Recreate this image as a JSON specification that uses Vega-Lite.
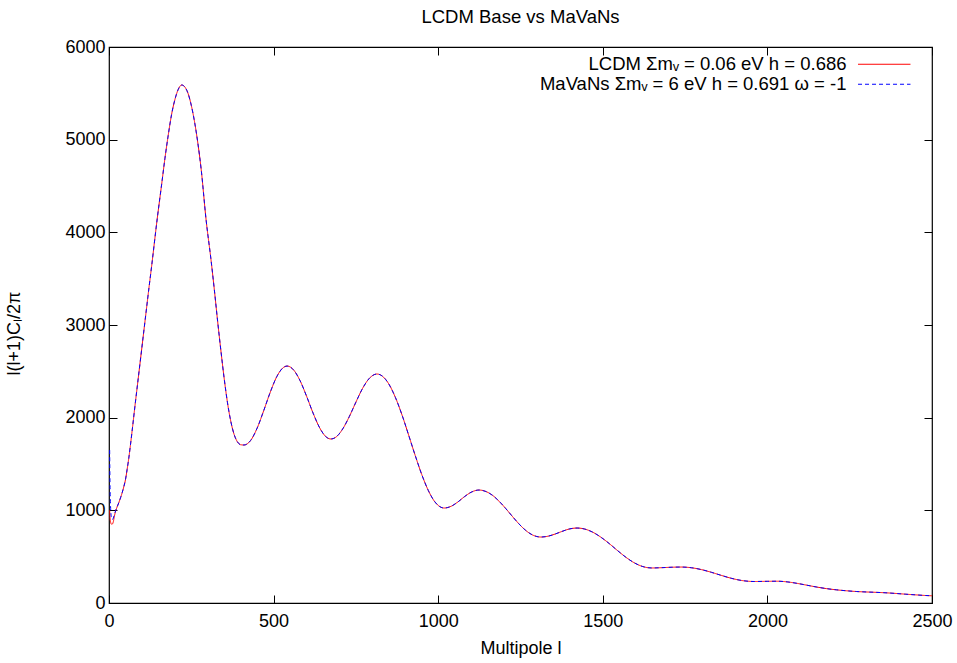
{
  "$schema": "https://vega.github.io/schema/vega-lite/v6.json",
  "width": 823,
  "height": 556,
  "autosize": "none",
  "padding": {"left": 109, "top": 47, "right": 25, "bottom": 60},
  "background": "white",
  "config": {
    "font": "Liberation Sans",
    "view": {"stroke": "black", "strokeWidth": 1.2},
    "axis": {
      "grid": false,
      "domain": false,
      "tickColor": "black",
      "tickWidth": 1,
      "tickSize": -8,
      "labelFont": "Liberation Sans",
      "labelFontSize": 18,
      "labelColor": "black",
      "labelFlush": false,
      "titleFont": "Liberation Sans",
      "titleFontSize": 18,
      "titleFontWeight": "normal",
      "titleColor": "black"
    },
    "legend": {
      "labelFont": "Liberation Sans",
      "labelFontSize": 18.5,
      "labelColor": "black"
    }
  },
  "title": {
    "text": "LCDM Base vs MaVaNs",
    "font": "Liberation Sans",
    "fontSize": 18.5,
    "fontWeight": "normal",
    "color": "black",
    "anchor": "middle",
    "offset": 12
  },
  "data": {
    "values": [
      {"l": 2, "lcdm": 1000, "mavans": 1650},
      {"l": 3, "lcdm": 930, "mavans": 1300},
      {"l": 4, "lcdm": 890, "mavans": 1120},
      {"l": 5, "lcdm": 870, "mavans": 1020},
      {"l": 6, "lcdm": 858, "mavans": 960},
      {"l": 8, "lcdm": 850, "mavans": 915},
      {"l": 10, "lcdm": 852, "mavans": 900},
      {"l": 13, "lcdm": 875, "mavans": 915},
      {"l": 16, "lcdm": 930, "mavans": 950},
      {"l": 20, "lcdm": 990, "mavans": 995},
      {"l": 25, "lcdm": 1040, "mavans": 1040},
      {"l": 30, "lcdm": 1085, "mavans": 1085},
      {"l": 35, "lcdm": 1135, "mavans": 1135},
      {"l": 40, "lcdm": 1190, "mavans": 1190},
      {"l": 45, "lcdm": 1255, "mavans": 1255},
      {"l": 50, "lcdm": 1330, "mavans": 1330},
      {"l": 55, "lcdm": 1440, "mavans": 1440},
      {"l": 60, "lcdm": 1560, "mavans": 1560},
      {"l": 65, "lcdm": 1700, "mavans": 1700},
      {"l": 70, "lcdm": 1850, "mavans": 1850},
      {"l": 80, "lcdm": 2160, "mavans": 2160},
      {"l": 90, "lcdm": 2460, "mavans": 2460},
      {"l": 100, "lcdm": 2760, "mavans": 2760},
      {"l": 110, "lcdm": 3060, "mavans": 3060},
      {"l": 120, "lcdm": 3360, "mavans": 3360},
      {"l": 130, "lcdm": 3650, "mavans": 3650},
      {"l": 146, "lcdm": 4133, "mavans": 4133},
      {"l": 160, "lcdm": 4520, "mavans": 4520},
      {"l": 170, "lcdm": 4800, "mavans": 4800},
      {"l": 180, "lcdm": 5050, "mavans": 5050},
      {"l": 190, "lcdm": 5270, "mavans": 5270},
      {"l": 200, "lcdm": 5430, "mavans": 5430},
      {"l": 210, "lcdm": 5540, "mavans": 5540},
      {"l": 221, "lcdm": 5590, "mavans": 5590},
      {"l": 230, "lcdm": 5570, "mavans": 5570},
      {"l": 240, "lcdm": 5500, "mavans": 5500},
      {"l": 250, "lcdm": 5370, "mavans": 5370},
      {"l": 260, "lcdm": 5190, "mavans": 5190},
      {"l": 270, "lcdm": 4960, "mavans": 4960},
      {"l": 280, "lcdm": 4680, "mavans": 4680},
      {"l": 295, "lcdm": 4133, "mavans": 4133},
      {"l": 310, "lcdm": 3700, "mavans": 3700},
      {"l": 320, "lcdm": 3380, "mavans": 3380},
      {"l": 330, "lcdm": 3040, "mavans": 3040},
      {"l": 340, "lcdm": 2720, "mavans": 2720},
      {"l": 350, "lcdm": 2420, "mavans": 2420},
      {"l": 360, "lcdm": 2160, "mavans": 2160},
      {"l": 370, "lcdm": 1960, "mavans": 1960},
      {"l": 380, "lcdm": 1820, "mavans": 1820},
      {"l": 390, "lcdm": 1740, "mavans": 1740},
      {"l": 400, "lcdm": 1708, "mavans": 1708},
      {"l": 410, "lcdm": 1705, "mavans": 1705},
      {"l": 430, "lcdm": 1753, "mavans": 1753},
      {"l": 450, "lcdm": 1887, "mavans": 1887},
      {"l": 470, "lcdm": 2076, "mavans": 2076},
      {"l": 490, "lcdm": 2276, "mavans": 2276},
      {"l": 510, "lcdm": 2445, "mavans": 2445},
      {"l": 530, "lcdm": 2542, "mavans": 2542},
      {"l": 541, "lcdm": 2557, "mavans": 2557},
      {"l": 560, "lcdm": 2518, "mavans": 2518},
      {"l": 580, "lcdm": 2402, "mavans": 2402},
      {"l": 600, "lcdm": 2233, "mavans": 2233},
      {"l": 620, "lcdm": 2049, "mavans": 2049},
      {"l": 640, "lcdm": 1890, "mavans": 1890},
      {"l": 660, "lcdm": 1791, "mavans": 1791},
      {"l": 674, "lcdm": 1770, "mavans": 1770},
      {"l": 690, "lcdm": 1792, "mavans": 1792},
      {"l": 710, "lcdm": 1879, "mavans": 1879},
      {"l": 730, "lcdm": 2012, "mavans": 2012},
      {"l": 750, "lcdm": 2167, "mavans": 2167},
      {"l": 770, "lcdm": 2314, "mavans": 2314},
      {"l": 790, "lcdm": 2421, "mavans": 2421},
      {"l": 814, "lcdm": 2471, "mavans": 2471},
      {"l": 830, "lcdm": 2449, "mavans": 2449},
      {"l": 850, "lcdm": 2363, "mavans": 2363},
      {"l": 870, "lcdm": 2218, "mavans": 2218},
      {"l": 890, "lcdm": 2030, "mavans": 2030},
      {"l": 910, "lcdm": 1814, "mavans": 1814},
      {"l": 930, "lcdm": 1594, "mavans": 1594},
      {"l": 950, "lcdm": 1387, "mavans": 1387},
      {"l": 970, "lcdm": 1214, "mavans": 1214},
      {"l": 990, "lcdm": 1091, "mavans": 1091},
      {"l": 1018, "lcdm": 1025, "mavans": 1025},
      {"l": 1040, "lcdm": 1045, "mavans": 1045},
      {"l": 1060, "lcdm": 1091, "mavans": 1091},
      {"l": 1080, "lcdm": 1148, "mavans": 1148},
      {"l": 1100, "lcdm": 1195, "mavans": 1195},
      {"l": 1124, "lcdm": 1219, "mavans": 1219},
      {"l": 1145, "lcdm": 1203, "mavans": 1203},
      {"l": 1165, "lcdm": 1162, "mavans": 1162},
      {"l": 1185, "lcdm": 1098, "mavans": 1098},
      {"l": 1205, "lcdm": 1020, "mavans": 1020},
      {"l": 1225, "lcdm": 936, "mavans": 936},
      {"l": 1245, "lcdm": 855, "mavans": 855},
      {"l": 1265, "lcdm": 786, "mavans": 786},
      {"l": 1285, "lcdm": 737, "mavans": 737},
      {"l": 1312, "lcdm": 712, "mavans": 712},
      {"l": 1335, "lcdm": 722, "mavans": 722},
      {"l": 1355, "lcdm": 744, "mavans": 744},
      {"l": 1375, "lcdm": 771, "mavans": 771},
      {"l": 1400, "lcdm": 800, "mavans": 800},
      {"l": 1422, "lcdm": 809, "mavans": 809},
      {"l": 1445, "lcdm": 798, "mavans": 798},
      {"l": 1470, "lcdm": 763, "mavans": 763},
      {"l": 1495, "lcdm": 708, "mavans": 708},
      {"l": 1520, "lcdm": 640, "mavans": 640},
      {"l": 1545, "lcdm": 565, "mavans": 565},
      {"l": 1570, "lcdm": 494, "mavans": 494},
      {"l": 1595, "lcdm": 435, "mavans": 435},
      {"l": 1620, "lcdm": 395, "mavans": 395},
      {"l": 1649, "lcdm": 378, "mavans": 378},
      {"l": 1670, "lcdm": 380, "mavans": 380},
      {"l": 1690, "lcdm": 383, "mavans": 383},
      {"l": 1710, "lcdm": 386, "mavans": 386},
      {"l": 1738, "lcdm": 388, "mavans": 388},
      {"l": 1770, "lcdm": 380, "mavans": 380},
      {"l": 1800, "lcdm": 360, "mavans": 360},
      {"l": 1830, "lcdm": 331, "mavans": 331},
      {"l": 1860, "lcdm": 298, "mavans": 298},
      {"l": 1890, "lcdm": 267, "mavans": 267},
      {"l": 1920, "lcdm": 244, "mavans": 244},
      {"l": 1960, "lcdm": 232, "mavans": 232},
      {"l": 2000, "lcdm": 234, "mavans": 234},
      {"l": 2030, "lcdm": 235, "mavans": 235},
      {"l": 2060, "lcdm": 228, "mavans": 228},
      {"l": 2090, "lcdm": 212, "mavans": 212},
      {"l": 2120, "lcdm": 192, "mavans": 192},
      {"l": 2150, "lcdm": 172, "mavans": 172},
      {"l": 2180, "lcdm": 155, "mavans": 155},
      {"l": 2210, "lcdm": 142, "mavans": 142},
      {"l": 2240, "lcdm": 132, "mavans": 132},
      {"l": 2270, "lcdm": 124, "mavans": 124},
      {"l": 2300, "lcdm": 119, "mavans": 119},
      {"l": 2330, "lcdm": 115, "mavans": 115},
      {"l": 2360, "lcdm": 110, "mavans": 110},
      {"l": 2390, "lcdm": 103, "mavans": 103},
      {"l": 2420, "lcdm": 95, "mavans": 95},
      {"l": 2450, "lcdm": 88, "mavans": 88},
      {"l": 2480, "lcdm": 81, "mavans": 81},
      {"l": 2500, "lcdm": 78, "mavans": 78}
    ]
  },
  "layer": [
    {
      "mark": {"type": "line", "strokeWidth": 1, "interpolate": "monotone", "clip": true},
      "encoding": {
        "x": {
          "field": "l", "type": "quantitative",
          "scale": {"domain": [0, 2500], "nice": false, "zero": false},
          "axis": {"orient": "bottom", "values": [0, 500, 1000, 1500, 2000, 2500], "format": "d", "labelPadding": 17, "title": "Multipole l", "titlePadding": 9}
        },
        "y": {
          "field": "lcdm", "type": "quantitative",
          "scale": {"domain": [0, 6000], "nice": false},
          "axis": {"orient": "left", "values": [0, 1000, 2000, 3000, 4000, 5000, 6000], "format": "d", "labelPadding": 12, "title": "l(l+1)Cₗ/2π", "titlePadding": 41, "titleY": 286}
        },
        "color": {
          "datum": "LCDM Σmᵥ = 0.06 eV h = 0.686",
          "scale": {"domain": ["LCDM Σmᵥ = 0.06 eV h = 0.686", "MaVaNs Σmᵥ = 6 eV h = 0.691 ω = -1"], "range": ["#ff0000", "#0000ff"]},
          "legend": {
            "title": null,
            "orient": "none",
            "legendX": 766,
            "legendY": 8,
            "padding": 0,
            "symbolType": "M-5,0H5",
            "symbolSize": 110,
            "symbolStrokeWidth": 1,
            "labelAlign": "right",
            "labelOffset": -47,
            "labelLimit": 500,
            "rowPadding": 1,
            "encode": {
              "symbols": {"update": {"stroke": {"scale": "color", "field": "value"}}}
            }
          }
        },
        "strokeDash": {
          "datum": "LCDM Σmᵥ = 0.06 eV h = 0.686",
          "scale": {"domain": ["LCDM Σmᵥ = 0.06 eV h = 0.686", "MaVaNs Σmᵥ = 6 eV h = 0.691 ω = -1"], "range": [[1, 0], [4, 3]]},
          "legend": null
        }
      }
    },
    {
      "mark": {"type": "line", "strokeWidth": 1, "interpolate": "monotone", "clip": true},
      "encoding": {
        "x": {
          "field": "l", "type": "quantitative",
          "axis": {"orient": "top", "values": [0, 500, 1000, 1500, 2000, 2500], "labels": false, "title": null}
        },
        "y": {
          "field": "mavans", "type": "quantitative",
          "axis": {"orient": "right", "values": [0, 1000, 2000, 3000, 4000, 5000, 6000], "labels": false, "title": null}
        },
        "color": {"datum": "MaVaNs Σmᵥ = 6 eV h = 0.691 ω = -1"},
        "strokeDash": {"datum": "MaVaNs Σmᵥ = 6 eV h = 0.691 ω = -1"}
      }
    }
  ],
  "resolve": {"axis": {"x": "independent", "y": "independent"}}
}
